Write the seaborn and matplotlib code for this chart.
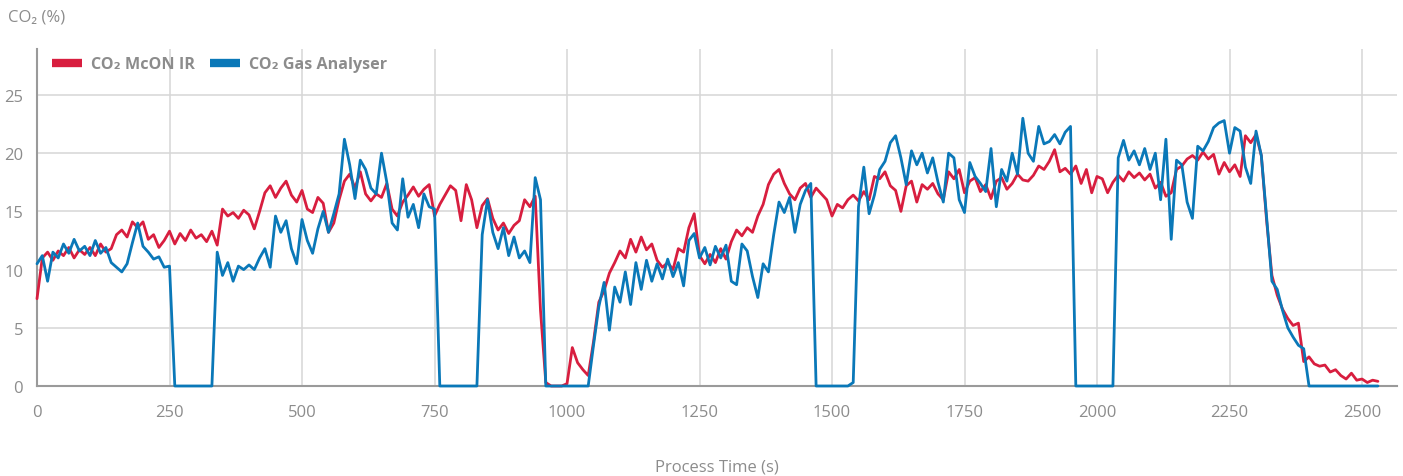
import matplotlib
matplotlib.use("Agg")
import matplotlib.pyplot as plt
import seaborn as sns
import pandas as pd
from matplotlib.lines import Line2D

# ---------------- data ----------------
time_s = list(range(0, 2540, 10))

mcon_ir = [
    7.5, 11.0, 11.5, 10.8, 11.6, 11.2, 11.9, 11.0, 11.7, 11.3,
    11.9, 11.2, 12.2, 11.5, 11.8, 13.0, 13.4, 12.8, 14.1, 13.6,
    14.1, 12.6, 13.0, 11.9, 12.5, 13.3, 12.2, 13.1, 12.5, 13.4,
    12.7, 13.0, 12.4, 13.3, 12.1, 15.2, 14.6, 14.9, 14.4, 15.1,
    14.7, 13.5, 15.0, 16.6, 17.2, 16.2, 17.0, 17.6, 16.4, 15.8,
    16.8, 15.2, 14.9, 16.2, 15.7, 13.2, 14.0, 16.0, 17.6, 18.2,
    17.0, 18.4, 16.5, 15.9, 16.5, 16.2, 17.4, 15.2, 14.6, 15.8,
    16.4, 17.1, 16.3, 16.9, 17.3, 14.6, 15.6, 16.4, 17.2, 16.8,
    14.2, 17.3, 16.0, 13.6, 15.5, 16.1, 14.4, 13.4, 14.0, 13.1,
    13.8, 14.2, 16.0, 15.4, 16.3, 6.5, 0.3, 0.0, 0.0, 0.0,
    0.2, 3.3, 2.0, 1.4, 0.9, 3.8, 7.2, 8.2, 9.7, 10.6,
    11.6, 11.0, 12.6, 11.5, 12.8, 11.7, 12.2, 10.8, 10.2, 10.6,
    10.0, 11.8, 11.5, 13.6, 14.8, 11.2, 10.5, 11.3, 10.6, 11.8,
    10.9, 12.4, 13.4, 12.9, 13.6, 13.2, 14.6, 15.6, 17.3, 18.2,
    18.6, 17.4, 16.5, 16.0, 17.0, 17.4, 16.2, 17.0, 16.5, 16.0,
    14.6, 15.6, 15.3, 16.0, 16.4, 15.9, 16.7, 16.0, 18.0, 17.8,
    18.4, 17.2, 16.8, 15.0, 17.2, 17.6, 15.8, 17.3, 16.9, 17.4,
    16.5, 16.0, 18.4, 17.8, 18.6, 16.6, 17.6, 17.9, 16.7, 17.3,
    16.1, 17.6, 17.9, 16.9, 17.4, 18.2, 17.7, 17.6, 18.1, 18.9,
    18.6, 19.3, 20.3, 18.4, 18.7, 18.2, 18.9, 17.4, 18.6, 16.6,
    18.0, 17.8, 16.6, 17.5, 18.1, 17.6, 18.4, 17.9, 18.3, 17.7,
    18.2, 17.0, 17.5, 16.3, 16.6, 18.6, 18.9, 19.5, 19.8, 19.4,
    20.1, 19.5, 19.9, 18.2, 19.2, 18.4, 19.0, 18.0, 21.5, 20.9,
    21.6, 19.8, 14.2, 9.5, 7.8, 6.6, 5.8, 5.2, 5.4, 2.1,
    2.5, 1.9, 1.7, 1.8, 1.2, 1.4, 0.9, 0.6, 1.1, 0.5,
    0.6, 0.3, 0.5, 0.4,
]

gas_analyser = [
    10.5, 11.2, 9.0, 11.5, 11.0, 12.2, 11.4, 12.6, 11.6, 12.0,
    11.2, 12.5, 11.4, 11.9, 10.6, 10.2, 9.8, 10.5, 12.3, 14.0,
    12.0, 11.5, 10.9, 11.1, 10.2, 10.3, 0.0, 0.0, 0.0, 0.0,
    0.0, 0.0, 0.0, 0.0, 11.5, 9.5, 10.6, 9.0, 10.3, 10.0,
    10.4, 10.0, 11.0, 11.8, 10.2, 14.6, 13.2, 14.2, 11.8, 10.5,
    14.3, 12.5, 11.4, 13.5, 15.0, 13.2, 14.8, 16.5, 21.2, 19.0,
    16.1, 19.4, 18.6, 17.0, 16.5, 20.0, 17.5, 14.0, 13.4, 17.8,
    14.5, 15.6, 13.6, 16.5, 15.4, 15.2, 0.0, 0.0, 0.0, 0.0,
    0.0, 0.0, 0.0, 0.0, 13.0, 16.0, 13.2, 11.8, 13.6, 11.2,
    12.8, 11.0, 11.6, 10.6, 17.9, 16.0, 0.0, 0.0, 0.0, 0.0,
    0.0, 0.0, 0.0, 0.0, 0.0, 3.5, 6.8, 8.9, 4.8, 8.5,
    7.2, 9.8, 7.0, 10.6, 8.3, 10.8, 9.0, 10.5, 9.2, 10.9,
    9.4, 10.6, 8.6, 12.5, 13.1, 11.0, 11.9, 10.4, 12.0, 11.0,
    12.1, 9.0, 8.7, 12.2, 11.6, 9.4, 7.6, 10.5, 9.8, 13.0,
    15.8, 14.9, 16.2, 13.2, 15.6, 16.8, 17.4, 0.0, 0.0, 0.0,
    0.0, 0.0, 0.0, 0.0, 0.3, 15.4, 18.8, 14.8, 16.4, 18.6,
    19.3, 20.9, 21.5, 19.6, 17.3, 20.2, 19.0, 20.0, 18.3, 19.6,
    17.5, 15.8, 20.0, 19.6, 16.0, 14.9, 19.2, 18.0, 17.4, 16.7,
    20.4, 15.4, 18.6, 17.6, 20.0, 18.2, 23.0, 20.0, 19.3, 22.3,
    20.8, 21.0, 21.6, 20.8, 21.8, 22.3, 0.0, 0.0, 0.0, 0.0,
    0.0, 0.0, 0.0, 0.0, 19.6, 21.1, 19.4, 20.2, 19.0, 20.4,
    18.6, 20.0, 16.0, 21.2, 12.6, 19.4, 19.0, 15.8, 14.4, 20.6,
    20.2, 21.0, 22.2, 22.6, 22.8, 20.0, 22.2, 21.9, 18.8, 17.4,
    21.9, 19.8, 14.5, 9.0, 8.3, 6.5, 5.0, 4.2, 3.5, 3.2,
    0.0, 0.0, 0.0, 0.0, 0.0, 0.0, 0.0, 0.0, 0.0, 0.0,
    0.0, 0.0, 0.0, 0.0,
]

series_labels = ["CO\u2082 McON IR", "CO\u2082 Gas Analyser"]
x_ticks = [0, 250, 500, 750, 1000, 1250, 1500, 1750, 2000, 2250, 2500]
y_ticks = [0, 5, 10, 15, 20, 25]

RED = "#d81e3f"
BLUE = "#0a78b8"
GREY_TXT = "#8c8c8c"

# ---------------- figure ----------------
sns.set_theme(style="white")
plt.rcParams["font.family"] = ["Open Sans", "DejaVu Sans"]

fig = plt.figure(figsize=(14.03, 4.77), dpi=100)
ax = fig.add_axes([37 / 1403, 1 - 387 / 477, 1360 / 1403, 337 / 477])

n = len(time_s)
df = pd.DataFrame({
    "t": time_s + time_s,
    "v": mcon_ir + gas_analyser,
    "series": [series_labels[0]] * n + [series_labels[1]] * n,
})

sns.lineplot(data=df, x="t", y="v", hue="series", hue_order=series_labels,
             palette=[RED, BLUE], linewidth=2.0, estimator=None, errorbar=None,
             sort=False, legend=False, ax=ax)
for ln in ax.lines:
    ln.set_clip_on(False)
    ln.set_zorder(3)

ax.set_xlim(0, 2566)
ax.set_ylim(0, 28.95)
ax.set_xticks(x_ticks)
ax.set_yticks(y_ticks)
ax.grid(True, color="#d6d6d6", linewidth=1.1)
ax.set_axisbelow(True)
for s in ["top", "right"]:
    ax.spines[s].set_visible(False)
for s in ["left", "bottom"]:
    ax.spines[s].set_color("#9a9a9a")
    ax.spines[s].set_linewidth(1.5)

ax.tick_params(axis="both", length=0, labelsize=12, labelcolor=GREY_TXT)
ax.tick_params(axis="x", pad=13)
ax.tick_params(axis="y", pad=10)

ax.set_xlabel("Process Time (s)", fontsize=12, color=GREY_TXT)
ax.xaxis.set_label_coords(0.5, -0.215)
ax.set_ylabel("")
fig.text(8 / 1403, 1 - 18 / 477, "CO\u2082 (%)", fontsize=12, color=GREY_TXT,
         ha="left", va="center")

handles = [Line2D([], [], color=RED, linewidth=6, solid_capstyle="butt"),
           Line2D([], [], color=BLUE, linewidth=6, solid_capstyle="butt")]
leg = ax.legend(handles, series_labels, loc="center left",
                bbox_to_anchor=(0.011, 0.955), ncol=2, frameon=False,
                handlelength=1.85, handletextpad=0.55, columnspacing=0.95,
                borderpad=0, borderaxespad=0,
                prop={"size": 11.6, "weight": "bold"})
for txt in leg.get_texts():
    txt.set_color(GREY_TXT)

fig.savefig("out.png", dpi=100)
